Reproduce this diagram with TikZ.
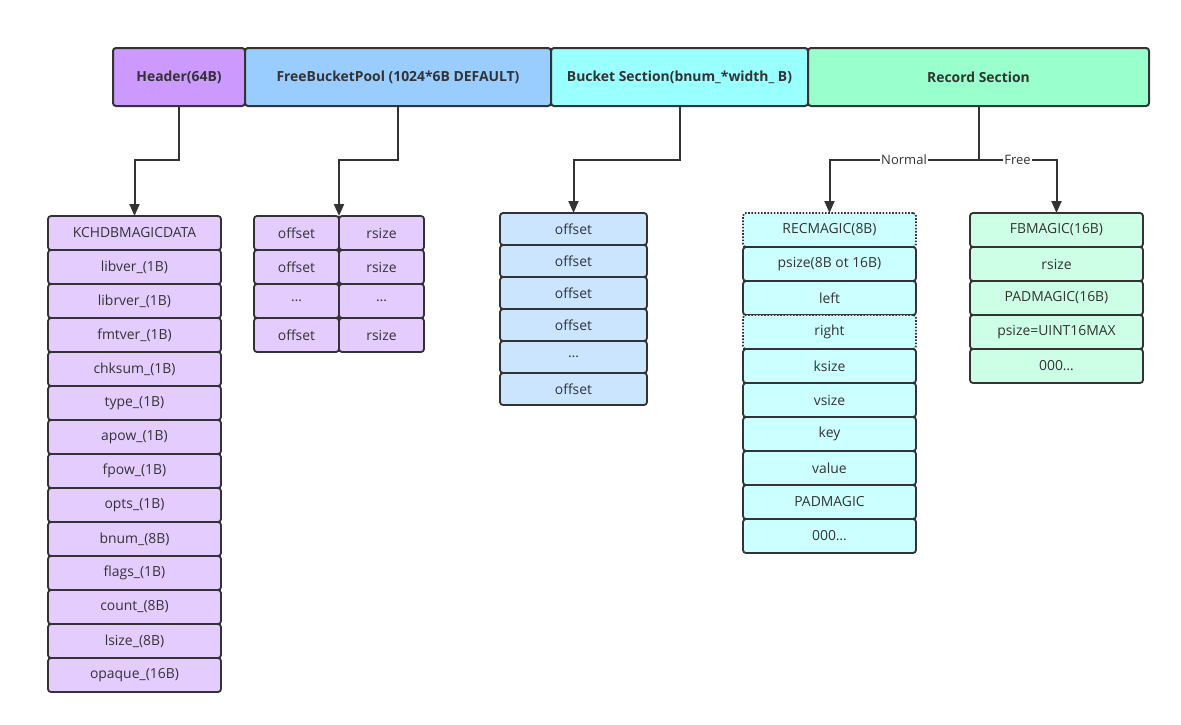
\documentclass[tikz,border=0pt]{standalone}
\usepackage{fontspec}
\setmainfont{Open Sans}
\usetikzlibrary{positioning, arrows.meta}

\definecolor{linec}{HTML}{333333}
\definecolor{hdrtop}{HTML}{CC99FF}
\definecolor{pooltop}{HTML}{99CCFF}
\definecolor{buckettop}{HTML}{99FFFF}
\definecolor{rectop}{HTML}{99FFCC}
\definecolor{hdrcell}{HTML}{E5CCFF}
\definecolor{bucketcell}{HTML}{CCE5FF}
\definecolor{reccell}{HTML}{CCFFFF}
\definecolor{freecell}{HTML}{CCFFE6}

\begin{document}
\begin{tikzpicture}[x=1pt, y=-1pt,
    every node/.style={font=\fontsize{13.9}{16}\selectfont, text=linec},
    topbox/.style={draw=linec, line width=2pt, rounded corners=3pt, inner sep=0pt, outer sep=0pt,
      minimum height=58pt, font=\fontsize{13.9}{16}\selectfont\bfseries},
    cell/.style={draw=linec, line width=1.8pt, rounded corners=3pt, inner sep=0pt, outer sep=0pt,
      minimum width=173pt, minimum height=34pt},
    dotcell/.style={cell, dash pattern=on 1.6pt off 1.6pt},
    arr/.style={draw=linec, line width=2pt, -{Triangle[length=12pt, width=10pt]}},
    lbl/.style={fill=white, inner sep=1pt, font=\fontsize{13}{15}\selectfont}]
    % Hintergrund
    \fill[white] (0,0) rectangle (1181,724);
    \useasboundingbox (0,0) rectangle (1181,724);

    % obere Leiste
    \node[topbox, fill=hdrtop, minimum width=132pt] (hdr) at (179,77) {Header(64B)};
    \node[topbox, fill=pooltop, minimum width=306pt, right=0pt of hdr] (pool) {FreeBucketPool (1024*6B DEFAULT)};
    \node[topbox, fill=buckettop, minimum width=257pt, right=0pt of pool] (bucket) {Bucket Section(bnum\_*width\_ B)};
    \node[topbox, fill=rectop, minimum width=341pt, right=0pt of bucket] (rec) {Record Section};

    % Header
    \foreach \t [count=\i from 0] in {KCHDBMAGICDATA, libver\_(1B), librver\_(1B), fmtver\_(1B),
        chksum\_(1B), type\_(1B), apow\_(1B), fpow\_(1B), opts\_(1B), bnum\_(8B),
        flags\_(1B), count\_(8B), lsize\_(8B), opaque\_(16B)}{
        \node[cell, fill=hdrcell] (h\i) at (134.5,{233+34*\i}) {\t};
      }

    % FreeBucketPool
    \foreach \a/\b [count=\i from 0] in {offset/rsize, offset/rsize, \ldots/\ldots, offset/rsize}{
        \node[cell, fill=hdrcell, minimum width=85pt] (pa\i) at (296.5,{233+34*\i}) {\a};
        \node[cell, fill=hdrcell, minimum width=85pt] (pb\i) at (381.5,{233+34*\i}) {\b};
      }

    % Bucket Section
    \foreach \t [count=\i from 0] in {offset, offset, offset, offset, \ldots, offset}{
        \node[cell, fill=bucketcell, minimum width=147pt, minimum height=32pt] (b\i) at (573.5,{229+32*\i}) {\t};
      }

    % Record Section: normal
    \node[dotcell, fill=reccell] (r0) at (829.5,230) {RECMAGIC(8B)};
    \node[cell, fill=reccell] (r1) at (829.5,264) {psize(8B ot 16B)};
    \node[cell, fill=reccell] (r2) at (829.5,298) {left};
    \node[dotcell, fill=reccell] (r3) at (829.5,332) {right};
    \foreach \t [count=\i from 4] in {ksize, vsize, key, value, PADMAGIC, 000\ldots}{
        \node[cell, fill=reccell] (r\i) at (829.5,{230+34*\i}) {\t};
      }

    % Record Section: free
    \foreach \t [count=\i from 0] in {FBMAGIC(16B), rsize, PADMAGIC(16B), psize=UINT16MAX, 000\ldots}{
        \node[cell, fill=freecell] (f\i) at (1056.5,{230+34*\i}) {\t};
      }

    % Verbindungen
    \draw[arr] (hdr.south) -- ++(0,54) -| (h0.north);
    \draw[arr] (pool.south) -- ++(0,54) -| (pa0.north east);
    \draw[arr] (bucket.south) -- ++(0,54) -| (b0.north);
    \draw[arr] (rec.south) -- ++(0,54) -| node[lbl, pos=0.25] {Normal} (r0.north);
    \draw[arr] (rec.south) -- ++(0,54) -| node[lbl, pos=0.25] {Free} (f0.north);
  \end{tikzpicture}
\end{document}
